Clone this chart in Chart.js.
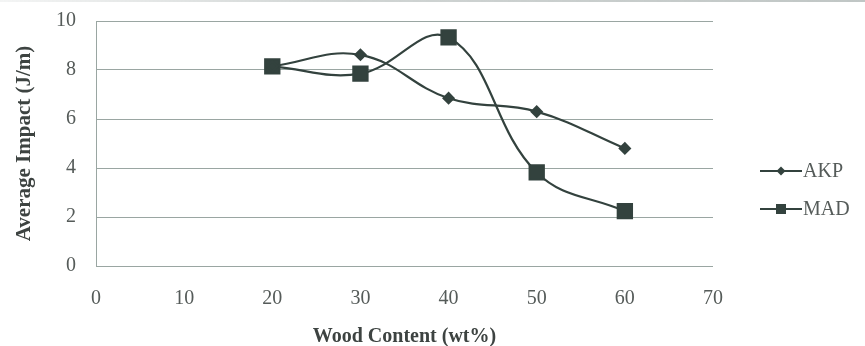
<!DOCTYPE html>
<html>
<head>
<meta charset="utf-8">
<script src="https://cdn.jsdelivr.net/npm/chart.js@4/dist/chart.umd.min.js"></script>
<style>
  html, body { margin: 0; padding: 0; background: #ffffff; }
  #wrap { width: 865px; height: 346px; position: relative; }
</style>
</head>
<body>
<div id="wrap"><canvas id="c" width="865" height="346"></canvas></div>
<script>
// Wood content (wt%) and measured average impact strength (J/m)
const woodContent = [20, 30, 40, 50, 60];
const akpImpact = [8.15, 8.62, 6.85, 6.3, 4.8];
const madImpact = [8.15, 7.85, 9.33, 3.82, 2.24];
const seriesNames = ['AKP', 'MAD'];

const LINE = '#33423e';
const GRID = '#9aa6a2';
const TEXT = '#555b59';
const SERIF = '"Liberation Serif", "Times New Roman", serif';

const toPoints = (xs, ys) => xs.map((x, i) => ({ x: x, y: ys[i] }));

// Thin rule along the top edge of the figure
const topRule = {
  id: 'topRule',
  beforeDraw(chart) {
    const ctx = chart.ctx;
    ctx.save();
    const g = ctx.createLinearGradient(0, 0, chart.width, 0);
    g.addColorStop(0, 'rgba(150,160,158,0.15)');
    g.addColorStop(0.4, 'rgba(150,160,158,0.6)');
    g.addColorStop(1, 'rgba(150,160,158,0.8)');
    ctx.strokeStyle = g;
    ctx.lineWidth = 1.5;
    ctx.beginPath();
    ctx.moveTo(0, 1);
    ctx.lineTo(chart.width, 1);
    ctx.stroke();
    ctx.restore();
  }
};

// Legend drawn beside the plot: short line with the series marker, then the name
const sideLegend = {
  id: 'sideLegend',
  afterDraw(chart) {
    const ctx = chart.ctx;
    const rows = [171, 209];
    chart.data.datasets.forEach((ds, i) => {
      const y = rows[i];
      ctx.save();
      ctx.strokeStyle = ds.borderColor;
      ctx.lineWidth = 2.2;
      ctx.beginPath();
      ctx.moveTo(760, y);
      ctx.lineTo(802, y);
      ctx.stroke();
      ctx.fillStyle = ds.pointBackgroundColor;
      ctx.beginPath();
      if (ds.pointStyle === 'rectRot') {
        const r = 4.5;
        ctx.moveTo(781, y - r); ctx.lineTo(781 + r, y); ctx.lineTo(781, y + r); ctx.lineTo(781 - r, y);
        ctx.closePath();
      } else {
        ctx.rect(776, y - 5, 10, 10);
      }
      ctx.fill();
      ctx.fillStyle = TEXT;
      ctx.font = '20px ' + SERIF;
      ctx.textBaseline = 'middle';
      ctx.textAlign = 'left';
      ctx.fillText(ds.label, 803, y + 1);
      ctx.restore();
    });
  }
};

new Chart(document.getElementById('c'), {
  type: 'line',
  data: {
    datasets: [
      {
        label: seriesNames[0],
        data: toPoints(woodContent, akpImpact),
        borderColor: LINE,
        backgroundColor: LINE,
        pointBackgroundColor: LINE,
        pointBorderColor: LINE,
        borderWidth: 2.2,
        pointStyle: 'rectRot',
        pointRadius: 5,
        tension: 0.4
      },
      {
        label: seriesNames[1],
        data: toPoints(woodContent, madImpact),
        borderColor: LINE,
        backgroundColor: LINE,
        pointBackgroundColor: LINE,
        pointBorderColor: LINE,
        borderWidth: 2.2,
        pointStyle: 'rect',
        pointRadius: 10,
        tension: 0.4
      }
    ]
  },
  options: {
    responsive: false,
    animation: false,
    layout: { padding: { top: 21, right: 152, left: 0, bottom: 0 } },
    plugins: {
      legend: { display: false },
      tooltip: { enabled: false }
    },
    scales: {
      x: {
        type: 'linear',
        min: 0,
        max: 70,
        ticks: {
          stepSize: 10,
          padding: 21,
          color: TEXT,
          font: { family: SERIF, size: 20 }
        },
        grid: { display: false, drawTicks: false },
        border: { display: false },
        title: {
          display: true,
          text: 'Wood Content (wt%)',
          color: '#3d4341',
          font: { family: SERIF, size: 20, weight: 'bold' },
          padding: { top: 0, bottom: -3 }
        },
        afterFit(scale) { scale.height = 80; }
      },
      y: {
        min: 0,
        max: 10,
        ticks: {
          stepSize: 2,
          padding: 20,
          color: TEXT,
          font: { family: SERIF, size: 20 }
        },
        grid: { color: GRID, lineWidth: 1, drawTicks: false },
        border: { display: true, color: GRID, width: 1 },
        title: {
          display: true,
          text: 'Average Impact (J/m)',
          color: '#3d4341',
          font: { family: SERIF, size: 21, weight: 'bold' },
          padding: { top: 12, bottom: 0 }
        },
        afterFit(scale) {
          scale.width = 96;
          scale.paddingTop = 0;
          scale.paddingBottom = 0;
        }
      }
    }
  },
  plugins: [topRule, sideLegend]
});
</script>
</body>
</html>
